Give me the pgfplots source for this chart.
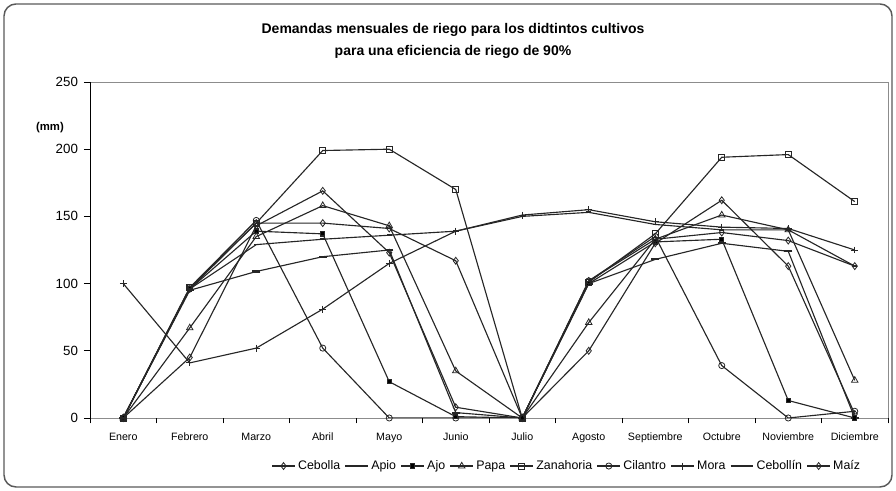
\documentclass[border=0pt]{standalone}
\usepackage{fontspec}
\setmainfont{Liberation Sans}
\usepackage{pgfplots}
\pgfplotsset{compat=1.18}
\begin{document}
\begin{tikzpicture}[x=0.75pt,y=0.75pt]
\path[use as bounding box] (0,0) rectangle (896,491);
\draw[black!65, line width=1.1pt, rounded corners=9pt] (4,4) rectangle (892,487);
\node[font=\bfseries\fontsize{10.5}{12}\selectfont, align=center, inner sep=0pt] at (453,491-41) {Demandas mensuales de riego para los didtintos cultivos\\[5pt]para una eficiencia de riego de 90\%};
\node[font=\bfseries\fontsize{8.5}{10}\selectfont] at (50,491-128) {(mm)};
\begin{axis}[
  at={(67.5pt,54.75pt)}, anchor=south west,
  scale only axis, width=598.5pt, height=252pt,
  xmin=-0.5, xmax=11.5, ymin=0, ymax=250,
  axis line style={draw=black!45, line width=0.6pt},
  ytick={0,50,...,250}, ytick pos=left,
  xtick={0,...,11}, xtick pos=bottom,
  xticklabels={Enero,Febrero,Marzo,Abril,Mayo,Junio,Julio,Agosto,Septiembre,Octubre,Noviembre,Diciembre},
  x tick style={draw=none},
  y tick style={black, line width=0.6pt},
  tick align=outside, major tick length=4.5pt,
  extra x ticks={-0.5,0.5,...,11.5}, extra x tick labels={},
  extra x tick style={x tick style={draw=black, line width=0.6pt}, major tick length=4pt, tick align=outside},
  /pgf/number format/assume math mode=true,
  y tick label style={font=\fontsize{10}{11}\selectfont, xshift=-1pt},
  x tick label style={font=\fontsize{8}{9}\selectfont, yshift=-3pt},
  every axis plot/.append style={line width=0.85pt, black!85, mark size=2.3pt, mark options={solid, line width=0.6pt, fill=white}},
  legend columns=9,
  legend style={at={(0.598,-0.143)}, anchor=center, draw=none, fill=none,
    font=\fontsize{9.3}{10}\selectfont, column sep=0pt,
    /tikz/every even column/.append style={column sep=1.5pt},
    /tikz/every odd column/.append style={column sep=0pt}},
  legend image code/.code={\draw[#1, mark repeat=2, mark phase=2] plot coordinates {(0pt,0pt) (8.5pt,0pt) (17pt,0pt)};},
]
% Cebolla
\addplot[mark=diamond, mark size=2.6pt] coordinates {(0,0) (1,45) (2,143) (3,169) (4,123) (5,8) (6,0) (7,50) (8,130) (9,162) (10,113) (11,3)};
\addlegendentry{Cebolla}
% Apio
\addplot[mark=-, mark size=3pt, mark options={line width=1.6pt}] coordinates {(0,0) (1,95) (2,109) (3,120) (4,125) (5,4) (6,0) (7,100) (8,118) (9,130) (10,124) (11,0)};
\addlegendentry{Apio}
% Ajo
\addplot[mark=square*, mark size=1.6pt, mark options={fill=black}] coordinates {(0,0) (1,96) (2,139) (3,137) (4,27) (5,1) (6,0) (7,100) (8,131) (9,133) (10,13) (11,0)};
\addlegendentry{Ajo}
% Papa
\addplot[mark=triangle, mark size=2.8pt] coordinates {(0,0) (1,67) (2,135) (3,158) (4,143) (5,35) (6,0) (7,71) (8,133) (9,151) (10,140) (11,28)};
\addlegendentry{Papa}
% Zanahoria
\addplot[mark=square, mark size=2.3pt] coordinates {(0,0) (1,97) (2,145) (3,199) (4,200) (5,170) (6,0) (7,101) (8,137) (9,194) (10,196) (11,161)};
\addlegendentry{Zanahoria}
% Cilantro
\addplot[mark=o, mark size=2.3pt] coordinates {(0,0) (1,97) (2,147) (3,52) (4,0) (5,0) (6,0) (7,102) (8,135) (9,39) (10,0) (11,5)};
\addlegendentry{Cilantro}
% Mora
\addplot[mark=+, mark size=2.6pt] coordinates {(0,100) (1,41) (2,52) (3,81) (4,115) (5,139) (6,151) (7,155) (8,146) (9,142) (10,141) (11,125)};
\addlegendentry{Mora}
% Cebollin
\addplot[mark=-, mark size=1.8pt, mark options={line width=1.3pt}] coordinates {(0,0) (1,96) (2,129) (3,133) (4,136) (5,139) (6,150) (7,153) (8,144) (9,140) (10,140) (11,113)};
\addlegendentry{Cebollín}
% Maiz
\addplot[mark=diamond, mark size=2.6pt] coordinates {(0,0) (1,96) (2,145) (3,145) (4,141) (5,117) (6,0) (7,102) (8,133) (9,138) (10,132) (11,113)};
\addlegendentry{Maíz}
\draw[black, line width=0.7pt] (rel axis cs:0,1) -- (rel axis cs:0,0) -- (rel axis cs:1,0);
\end{axis}
\end{tikzpicture}
\end{document}
